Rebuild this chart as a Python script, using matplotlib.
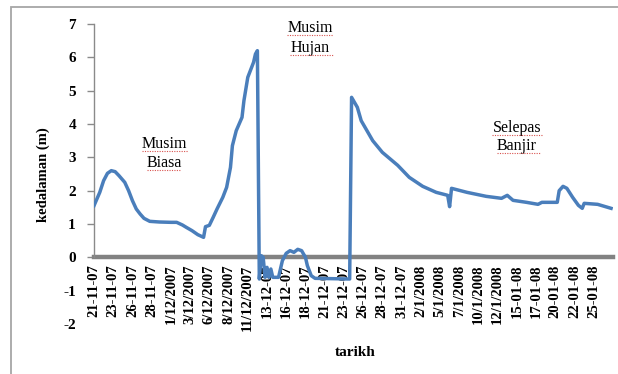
import matplotlib
matplotlib.use("Agg")
import matplotlib.pyplot as plt
from matplotlib.lines import Line2D
from matplotlib.patches import Rectangle

# Water depth record: reading number (10 readings per date label) and depth in metres
reading = [0, 3, 5, 7, 9, 11, 13, 16, 18, 20, 22, 24, 26, 29, 34, 40, 43, 46, 48, 51,
           54, 57, 58, 60, 62, 64, 67, 69, 71, 72, 74, 77, 78, 80, 83, 84, 85,
           86, 87, 88, 89, 90, 91, 92, 93, 96, 98, 100, 102, 104, 106, 108, 110,
           111, 113, 115, 133,
           134, 137, 139, 145, 150, 158, 164, 171, 178, 184, 185, 186, 194, 204,
           212, 215, 218, 225, 231, 233, 241, 242, 244, 246, 249, 252, 254, 255,
           262, 269]
kedalaman = [1.55, 1.95, 2.30, 2.52, 2.60, 2.57, 2.45, 2.25, 2.00, 1.70, 1.45, 1.30,
             1.17, 1.08, 1.06, 1.05, 1.05, 0.97, 0.90, 0.80, 0.68, 0.60, 0.92, 0.96,
             1.20, 1.45, 1.80, 2.10, 2.70, 3.35, 3.80, 4.20, 4.70, 5.40, 5.85, 6.10,
             6.20,
             -0.65, 0.05, 0.00, -0.60, -0.30, -0.60, -0.35, -0.60, -0.60, -0.10,
             0.12, 0.20, 0.15, 0.24, 0.20, 0.00, -0.25, -0.55, -0.63, -0.65,
             4.80, 4.50, 4.10, 3.50, 3.15, 2.76, 2.40, 2.13, 1.95, 1.86, 1.52, 2.07,
             1.95, 1.83, 1.77, 1.86, 1.71, 1.65, 1.59, 1.65, 1.65, 2.00, 2.13, 2.07,
             1.80, 1.56, 1.47, 1.62, 1.59, 1.47]

tarikh_labels = ["21-11-07", "23-11-07", "26-11-07", "28-11-07", "1/12/2007",
                 "3/12/2007", "6/12/2007", "8/12/2007", "11/12/2007", "13-12-07",
                 "16-12-07", "18-12-07", "21-12-07", "23-12-07", "26-12-07",
                 "28-12-07", "31-12-07", "2/1/2008", "5/1/2008", "7/1/2008",
                 "10/1/2008", "12/1/2008", "15-01-08", "17-01-08", "20-01-08",
                 "22-01-08", "25-01-08"]
label_step = 10
n_readings = 270
y_ticks = list(range(-2, 8))

season_notes = [("Musim\nBiasa", 164, 153), ("Musim\nHujan", 310, 38),
                ("Selepas\nBanjir", 517, 137)]

W, H = 618, 374
SERIF = ["Liberation Serif", "DejaVu Serif"]


def fx(px):
    return px / W


def fy(py):
    return 1 - py / H


fig = plt.figure(figsize=(W / 100, H / 100), dpi=100)
fig.patch.set_facecolor("white")

# outer frame (open on the right and bottom)
fig.add_artist(Rectangle((fx(10.5), fy(390)), fx(640), fy(6.5) - fy(390),
                         transform=fig.transFigure, fill=False,
                         edgecolor="#a6a6a6", linewidth=1.3))

ax = fig.add_axes([fx(94), fy(324), fx(613) - fx(94), fy(24) - fy(324)])
ax.set_xlim(0, n_readings)
ax.set_ylim(-2, 7)

ax.plot(reading, kedalaman, color="#4a7ebb", linewidth=2.5, zorder=3,
        solid_joinstyle="round")

for s in ("top", "right"):
    ax.spines[s].set_visible(False)
ax.spines["left"].set_bounds(0, 7)
ax.spines["left"].set_color("#8a8a8a")
ax.spines["left"].set_linewidth(1.0)
ax.spines["bottom"].set_position(("data", 0))
ax.spines["bottom"].set_color("#828282")
ax.spines["bottom"].set_linewidth(3.2)
ax.spines["bottom"].set_zorder(2)

ax.set_yticks(y_ticks)
ax.set_yticklabels([str(v) for v in y_ticks], fontfamily=SERIF,
                   fontweight="bold", fontsize=11)
ax.tick_params(axis="y", length=5, width=1, color="#8a8a8a", pad=8)
for t in ax.yaxis.get_major_ticks():
    if t.get_loc() < 0:
        t.tick1line.set_visible(False)

ax.set_xticks(range(0, label_step * len(tarikh_labels), label_step))
ax.set_xticklabels(tarikh_labels, rotation=90, fontfamily=SERIF,
                   fontweight="bold", fontsize=10.5)
ax.tick_params(axis="x", length=0, pad=5)

fig.text(fx(355), fy(352), "tarikh", fontfamily=SERIF, fontweight="bold",
         fontsize=11, ha="center", va="center")
fig.text(fx(43), fy(175), "kedalaman (m)", fontfamily=SERIF,
         fontweight="bold", fontsize=10.5, rotation=90, ha="center",
         va="center")

for text, cx, cy in season_notes:
    fig.text(fx(cx), fy(cy), text, fontfamily=SERIF, fontsize=11.5,
             ha="center", va="center", linespacing=1.25, zorder=4,
             bbox=dict(facecolor="white", edgecolor="none", pad=6))

# spell-check squiggles under the note words
squiggles = [(142, 188, 151), (147, 181, 170), (287, 333, 35), (290, 333, 55),
             (492, 543, 135), (497, 540, 153)]
for x0, x1, yy in squiggles:
    fig.add_artist(Line2D([fx(x0), fx(x1)], [fy(yy), fy(yy)],
                          transform=fig.transFigure, color="#d9534f",
                          linewidth=0.8, linestyle=(0, (1, 1.2)), zorder=6))

fig.savefig("out.png", dpi=100)
